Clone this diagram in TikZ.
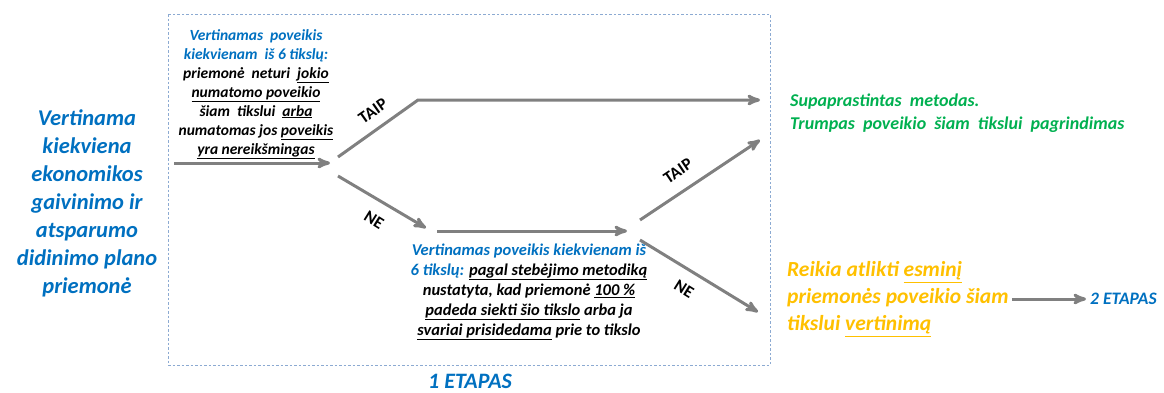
\documentclass[tikz,border=0pt]{standalone}
\usepackage{fontspec}
\setmainfont{Carlito}
\usetikzlibrary{arrows,positioning}

\definecolor{planblue}{RGB}{0,112,192}
\definecolor{okgreen}{RGB}{0,176,80}
\definecolor{needgold}{RGB}{255,192,0}
\definecolor{flowgray}{RGB}{128,128,128}
\definecolor{frameblue}{RGB}{140,170,210}

\begin{document}
\begin{tikzpicture}[>=stealth',x=1pt,y=-1pt,
    flow/.style={->,draw=flowgray,line width=3pt},
    txt/.style={align=center,inner sep=0pt},
    answer/.style={font=\fontsize{17}{19}\selectfont\bfseries,inner sep=0pt}]
    \useasboundingbox (0,0) rectangle (1164,392);
    \draw[frameblue,line width=0.9pt,dash pattern=on 2.5pt off 2pt] (168,14) rectangle (770,365);

    \node[txt,planblue,font=\fontsize{22.5}{28}\selectfont\bfseries\itshape] (plan) at (87,203)
        {Vertinama\\kiekviena\\ekonomikos\\gaivinimo ir\\atsparumo\\didinimo plano\\priemonė};

    \node[txt,font=\fontsize{15.5}{19}\selectfont\bfseries\itshape] (check1) at (256,94)
        {\textcolor{planblue}{Vertinamas\ \ poveikis}\\
         \textcolor{planblue}{kiekvienam\ \ iš\ 6 tikslų:}\\
         priemonė\ \ neturi\ \ \underline{jokio}\\
         \underline{numatomo poveikio}\\
         šiam\ \ tikslui\ \ \underline{arba}\\
         numatomas jos \underline{poveikis}\\
         \underline{yra nereikšmingas}};

    \node[txt,font=\fontsize{16.5}{20}\selectfont\bfseries\itshape] (check2) at (529,292)
        {\textcolor{planblue}{Vertinamas poveikis kiekvienam iš}\\
         \textcolor{planblue}{6 tikslų:} \underline{pagal stebėjimo metodiką}\\
         nustatyta, kad priemonė \underline{100 \%}\\
         \underline{padeda siekti šio tikslo} arba ja\\
         \underline{svariai prisidedama} prie to tikslo};

    \node[txt,align=left,anchor=west,okgreen,font=\fontsize{18}{23}\selectfont\bfseries\itshape] (simple) at (790,113)
        {Supaprastintas\ \ metodas.\\Trumpas\ \ poveikio\ \ šiam\ \ tikslui\ \ pagrindimas};

    \node[txt,align=left,anchor=west,needgold,font=\fontsize{21.5}{27}\selectfont\bfseries\itshape] (full) at (787,299)
        {Reikia atlikti \underline{esminį}\\priemonės poveikio šiam\\tikslui \underline{vertinimą}};

    \node[txt,anchor=west,planblue,font=\fontsize{17.5}{19}\selectfont\bfseries\itshape] (stage2) at (1090,299) {2 ETAPAS};
    \node[txt,planblue,font=\fontsize{22}{24}\selectfont\bfseries\itshape] (stage1) at (470,381) {1 ETAPAS};

    % junctions of the arrows
    \coordinate (in) at (174,163);
    \coordinate (split1) at (330,163);
    \coordinate (taip1s) at (338,157);
    \coordinate (bend1) at (418,100);
    \coordinate (taip1e) at (760,100);
    \coordinate (ne1s) at (338,176);
    \coordinate (ne1e) at (426,228);
    \coordinate (mid1) at (437,231);
    \coordinate (mid2) at (627,231);
    \coordinate (taip2s) at (640,220);
    \coordinate (taip2e) at (760,140);
    \coordinate (ne2s) at (640,240);
    \coordinate (ne2e) at (758,312);

    \draw[flow] (in) -- (split1);
    \draw[flow] (taip1s) -- (bend1) -- (taip1e);
    \draw[flow] (ne1s) -- (ne1e);
    \draw[flow] (mid1) -- (mid2);
    \draw[flow] (taip2s) -- (taip2e);
    \draw[flow] (ne2s) -- (ne2e);
    \draw[flow] ([xshift=3pt]full.east |- stage2) -- ([xshift=-4pt]stage2.west);

    \node[answer,rotate=35] at (373,111) {TAIP};
    \node[answer,rotate=-32] at (374,220) {NE};
    \node[answer,rotate=34] at (678,171) {TAIP};
    \node[answer,rotate=-32] at (684,289) {NE};
\end{tikzpicture}
\end{document}
